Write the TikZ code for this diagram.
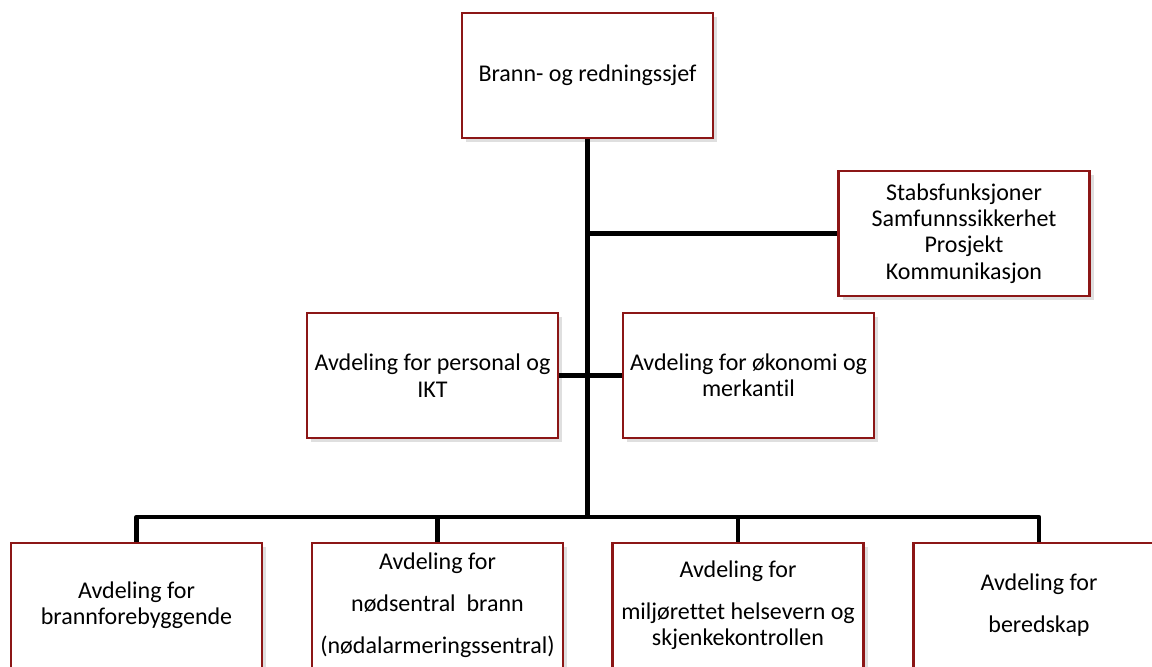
\documentclass[tikz,border=0pt]{standalone}
\usepackage{fontspec}
\setmainfont{Carlito}[Ligatures=NoCommon]
\usepackage{xcolor}
\usepackage{tikz}
\usetikzlibrary{shadows}
\definecolor{boxred}{RGB}{140,22,22}
\tikzset{box/.style={rectangle,draw=boxred,line width=1.1pt,fill=white,minimum width=125.5pt,minimum height=62.5pt,inner sep=0pt,align=center,font=\fontsize{12}{13.2}\selectfont,drop shadow={opacity=0.25,shadow xshift=2pt,shadow yshift=-2pt}}}
\tikzset{link/.style={draw=black,line width=2.4pt,line join=round}}

\begin{document}
\begin{tikzpicture}[x=0.5pt,y=-0.5pt]
    \useasboundingbox (0,0) rectangle (1152,666);
    \clip (0,0) rectangle (1152,666);

    \coordinate (bus) at (587.5,517);

    \node[box] (sjef) at (587.5,75.5) {Brann- og redningssjef};
    \node[box] (stab) at (964,233.5) {Stabsfunksjoner\\Samfunnssikkerhet\\Prosjekt\\Kommunikasjon};
    \node[box] (personal) at (432.5,375.5) {Avdeling for personal og\\IKT};
    \node[box] (okonomi) at (748.5,375.5) {Avdeling for økonomi og\\merkantil};
    \node[box] (forebygg) at (136.5,605.5) {Avdeling for\\brannforebyggende};
    \node[box] (nodsentral) at (437.5,605.5) {Avdeling for\\[7.8pt]nødsentral\ \ brann\\[7.8pt](nødalarmeringssentral)};
    \node[box] (miljo) at (738,605.5) {Avdeling for\\[7.8pt]miljørettet helsevern og\\skjenkekontrollen};
    \node[box] (beredskap) at (1039,605.5) {Avdeling for\\[7.8pt]beredskap};

    \draw [link] (sjef) to [] (bus);
    \draw [link] (stab) to [] (stab -| bus);
    \draw [link] (personal) to [] (okonomi);
    \draw [link] (bus) -| (forebygg);
    \draw [link] (bus) -| (nodsentral);
    \draw [link] (bus) -| (miljo);
    \draw [link] (bus) -| (beredskap);
\end{tikzpicture}
\end{document}
